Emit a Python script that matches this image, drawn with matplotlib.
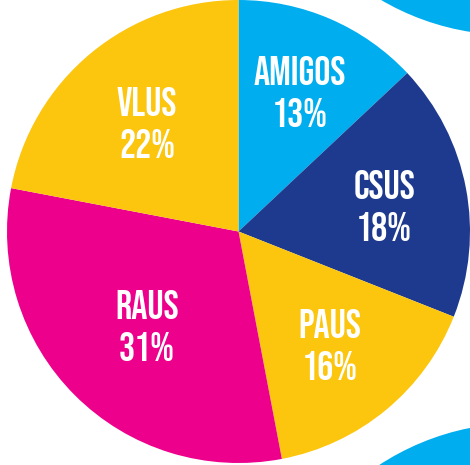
import matplotlib.pyplot as plt
import matplotlib.patches as patches
import numpy as np

# Slice data (clockwise from the top)
names = ['AMIGOS', 'CSUS', 'PAUS', 'RAUS', 'VLUS']
shares = [13, 18, 16, 31, 22]
colors = ['#00AEEF', '#1E3A8E', '#FCC50E', '#EC008C', '#FCC50E']
label_dist = [0.67, 0.64, 0.62, 0.56, 0.62]

W, H = 470, 465
fig = plt.figure(figsize=(W / 100, H / 100), dpi=100)
ax = fig.add_axes([0, 0, 1, 1])

# decorative blue discs in the right-hand corners
ax.add_patch(patches.Circle((510, H + 220), 255, color='#00AEEF', lw=0))
ax.add_patch(patches.Circle((520, -215), 257, color='#00AEEF', lw=0))

cx, cy, r = 238.5, 233.5, 231.5
wedges, _ = ax.pie(shares, colors=colors, startangle=90, counterclock=False,
                   center=(cx, cy), radius=r, frame=True,
                   wedgeprops=dict(linewidth=0))

for w, name, pct, d in zip(wedges, names, shares, label_dist):
    mid = np.deg2rad((w.theta1 + w.theta2) / 2)
    ax.text(cx + d * r * np.cos(mid), cy - 2 + d * r * np.sin(mid),
            f'{name}\n{pct}%', ha='center', va='center', color='white',
            fontsize=29, family=['Bebas Neue', 'DejaVu Sans'],
            linespacing=1.45)

ax.set_xlim(0, W)
ax.set_ylim(0, H)
ax.set_aspect('equal')
ax.axis('off')

fig.savefig('out.png', dpi=100)
